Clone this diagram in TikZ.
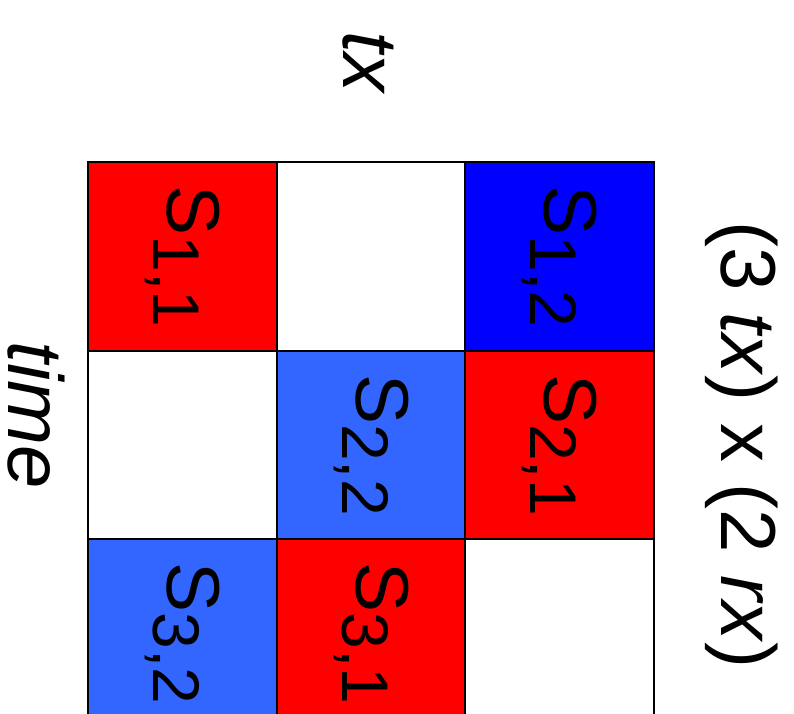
\documentclass[tikz,border=0pt]{standalone}
\usepackage{fontspec}
\setmainfont{Liberation Sans}
\definecolor{cred}{RGB}{255,0,0}
\definecolor{cblue}{RGB}{0,0,255}
\definecolor{clblue}{RGB}{51,102,255}
\newcommand{\SLab}[2]{\fontsize{75}{90}\selectfont S\raisebox{-14pt}{\fontsize{66}{70}\selectfont #1,#2}}
\begin{document}
\begin{tikzpicture}[x=1pt,y=-1pt,
  cell/.style={draw=black, line width=2pt, minimum size=188.7pt, inner sep=0pt, rotate=-90},
  lab/.style={rotate=-90, inner sep=0pt, font=\fontsize{78}{90}\selectfont}]
\useasboundingbox (0,0) rectangle (794,713);
\begin{scope}
\clip (0,0) rectangle (794,713);
\node[cell, fill=cred]   (c11) at (182.3,256.3) {\SLab{1}{1}};
\node[cell, fill=white]  (c12) at (371,256.3) {};
\node[cell, fill=cblue]  (c13) at (559.7,256.3) {\SLab{1}{2}};
\node[cell, fill=white]  (c21) at (182.3,445) {};
\node[cell, fill=clblue] (c22) at (371,445) {\SLab{2}{2}};
\node[cell, fill=cred]   (c23) at (559.7,445) {\SLab{2}{1}};
\node[cell, fill=clblue] (c31) at (182.3,633.7) {\SLab{3}{2}};
\node[cell, fill=cred]   (c32) at (371,633.7) {\SLab{3}{1}};
\node[cell, fill=white]  (c33) at (559.7,633.7) {};
\end{scope}
\node[lab] (tx) at (368,62) {\itshape tx};
\node[lab] (time) at (36,415) {\itshape time};
\node[lab] (dims) at (742,445) {(3 \textit{tx}) x (2 \textit{rx})};
\end{tikzpicture}
\end{document}
